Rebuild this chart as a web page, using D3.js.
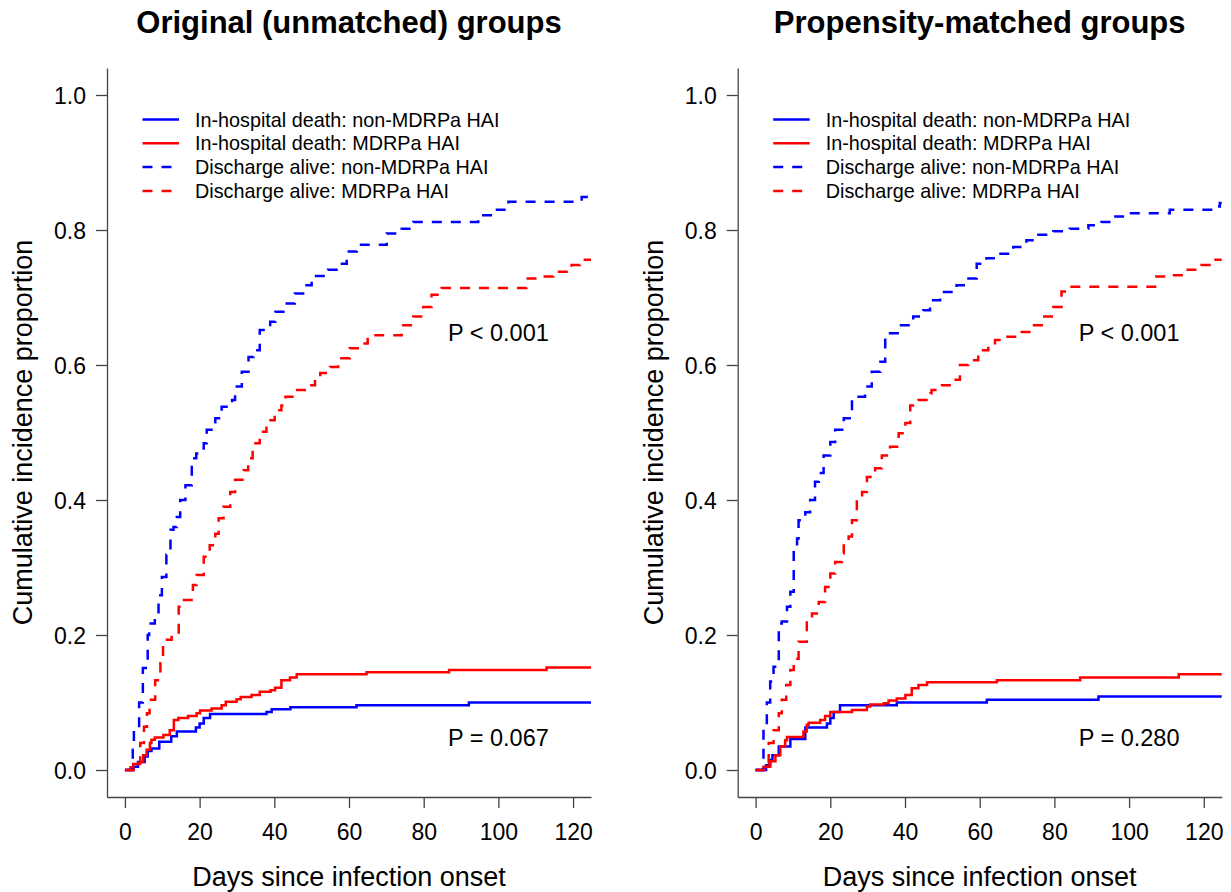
<!DOCTYPE html>
<html><head><meta charset="utf-8">
<script src="https://cdn.jsdelivr.net/npm/d3@7"></script>
<style>
body{margin:0;background:#fff}
svg{display:block;font-family:Arial,"Liberation Sans",sans-serif}
</style>
</head><body>
<svg id="chart" width="1231" height="892"></svg>
<script>
// ---------- data ----------
const panelTitles = ["Original (unmatched) groups", "Propensity-matched groups"];
const xTicks = [0, 20, 40, 60, 80, 100, 120];
const yTicks = [0, 0.2, 0.4, 0.6, 0.8, 1.0];
const xLabel = "Days since infection onset";
const yLabel = "Cumulative incidence proportion";
const legendLabels = [
  "In-hospital death: non-MDRPa HAI",
  "In-hospital death: MDRPa HAI",
  "Discharge alive: non-MDRPa HAI",
  "Discharge alive: MDRPa HAI"
];
const pTextsLeft = ["P < 0.001", "P = 0.067"];
const pTextsRight = ["P < 0.001", "P = 0.280"];
const pPosDays = [100, 100];
const pPosProp = [0.65, 0.05];

// [days, cumulative incidence] at each jump — unmatched
const origDeathNonMDR = [[0,0],[2.3,0.005],[3.5,0.012],[5.3,0.02],[6.1,0.028],[7.1,0.032],[9.2,0.042],[12.4,0.05],[13.9,0.057],[19,0.063],[20,0.069],[21.1,0.077],[22.8,0.083],[37.9,0.086],[39.3,0.09],[44.3,0.093],[62,0.096],[92.1,0.1]];
const origDeathMDR = [[0,0],[1.5,0.004],[2.2,0.009],[4.0,0.012],[4.9,0.022],[5.8,0.03],[6.7,0.04],[7.1,0.045],[8.0,0.048],[10.3,0.052],[12.0,0.059],[13.1,0.074],[14.3,0.077],[16.9,0.08],[19.2,0.084],[20.1,0.088],[23.2,0.091],[25.9,0.096],[27.0,0.101],[29.9,0.105],[31.0,0.108],[33.9,0.111],[36.1,0.116],[39.0,0.118],[40.2,0.122],[41.9,0.133],[44.2,0.137],[46.0,0.142],[64.7,0.145],[86.8,0.148],[112.9,0.152]];
const origDischNonMDR = [[0,0],[2.1,0.03],[2.4,0.059],[3.8,0.1],[4.8,0.151],[6.1,0.2],[6.5,0.217],[8.0,0.222],[9.0,0.259],[9.9,0.286],[11.1,0.319],[12.2,0.356],[13.0,0.36],[13.9,0.375],[14.8,0.4],[16.2,0.422],[17.9,0.462],[19.1,0.469],[21.1,0.484],[21.9,0.504],[24.2,0.521],[25.9,0.538],[28.7,0.548],[29.5,0.568],[31.3,0.59],[33.1,0.612],[34.4,0.622],[36.1,0.652],[38.9,0.664],[40.3,0.679],[42.8,0.691],[45.5,0.706],[48.2,0.718],[50.0,0.732],[54.4,0.741],[57.6,0.75],[59.4,0.768],[62.1,0.778],[70.1,0.795],[74.1,0.802],[77.2,0.812],[94.6,0.822],[99.1,0.83],[102.7,0.842],[122.3,0.849],[124.5,0.852]];
const origDischMDR = [[0,0],[3.0,0.01],[4.1,0.04],[5.1,0.064],[5.9,0.084],[6.6,0.104],[8.1,0.133],[9.5,0.158],[10.2,0.193],[12.5,0.2],[14.4,0.242],[15.3,0.252],[18.2,0.274],[19.2,0.289],[21.1,0.316],[22.7,0.333],[24.2,0.35],[25.1,0.373],[26.4,0.39],[28.2,0.412],[29.5,0.43],[31.8,0.444],[33.0,0.462],[34.2,0.484],[36.1,0.501],[37.9,0.518],[40.1,0.533],[41.9,0.54],[43.0,0.553],[45.2,0.563],[48.7,0.57],[50.9,0.578],[52.3,0.588],[54.9,0.597],[57.1,0.61],[60.2,0.625],[62.9,0.632],[65.0,0.644],[74.1,0.659],[77.2,0.672],[79.9,0.686],[82.1,0.704],[84.8,0.714],[107.5,0.728],[111.6,0.731],[114.7,0.738],[119.6,0.748],[121.8,0.756]];

// propensity-matched
const matchDeathNonMDR = [[0,0],[2.8,0.007],[3.9,0.015],[4.5,0.022],[6.2,0.035],[9.3,0.046],[13.3,0.063],[19.1,0.069],[20.0,0.077],[20.9,0.086],[22.6,0.096],[37.8,0.1],[61.9,0.104],[91.8,0.109]];
const matchDeathMDR = [[0,0],[2.1,0.005],[3.9,0.013],[5.3,0.022],[6.6,0.035],[7.9,0.044],[8.4,0.049],[12.8,0.057],[13.7,0.067],[14.2,0.07],[17.3,0.074],[18.6,0.08],[20.0,0.086],[25.8,0.089],[29.8,0.094],[30.7,0.097],[34.3,0.099],[35.6,0.103],[37.8,0.106],[40.1,0.111],[41.8,0.121],[43.6,0.126],[45.9,0.13],[64.6,0.133],[86.9,0.137],[113.3,0.142]];
const matchDischNonMDR = [[0,0],[2.1,0.064],[3.0,0.1],[3.9,0.131],[4.8,0.153],[6.2,0.217],[7.0,0.22],[8.4,0.242],[9.3,0.264],[10.2,0.326],[11.1,0.343],[11.5,0.37],[13.3,0.382],[14.6,0.4],[15.9,0.427],[16.9,0.44],[18.2,0.466],[20.0,0.486],[21.3,0.504],[23.6,0.521],[25.8,0.548],[26.7,0.553],[29.3,0.568],[31.1,0.59],[33.4,0.605],[34.7,0.642],[36.0,0.647],[38.6,0.659],[42.2,0.672],[44.9,0.681],[46.7,0.696],[49.4,0.708],[53.8,0.718],[56.5,0.728],[59.2,0.75],[61.8,0.758],[65.0,0.765],[69.0,0.775],[72.5,0.785],[75.7,0.793],[79.7,0.798],[84.1,0.802],[89.1,0.807],[92.6,0.812],[95.8,0.82],[99.3,0.825],[110.9,0.83],[123.4,0.835],[124.3,0.84]];
const matchDischMDR = [[0,0],[3.0,0.01],[3.5,0.04],[4.8,0.059],[6.2,0.084],[7.0,0.104],[8.2,0.126],[9.3,0.148],[10.2,0.165],[11.5,0.19],[13.7,0.225],[15.1,0.232],[16.9,0.249],[18.6,0.271],[20.0,0.291],[21.3,0.308],[23.1,0.321],[23.6,0.336],[24.9,0.346],[25.8,0.37],[27.1,0.4],[28.5,0.412],[29.8,0.434],[32.0,0.447],[33.8,0.466],[36.0,0.479],[38.3,0.499],[40.1,0.514],[41.4,0.54],[43.6,0.548],[46.8,0.558],[47.1,0.563],[49.9,0.57],[52.5,0.578],[54.7,0.6],[56.9,0.607],[59.6,0.622],[62.3,0.63],[64.1,0.637],[66.8,0.642],[70.3,0.649],[73.9,0.659],[76.6,0.672],[79.7,0.686],[81.9,0.709],[84.6,0.716],[107.3,0.731],[111.3,0.733],[114.5,0.741],[119.4,0.748],[122.1,0.756]];

// ---------- styling ----------
const seriesColors = ["#0000FF", "#FF0000", "#0000FF", "#FF0000"];
const seriesDash = [null, null, "10,9", "10,9"];

const panels = [
  {title: panelTitles[0], series: [origDeathNonMDR, origDeathMDR, origDischNonMDR, origDischMDR], p: pTextsLeft, dx: 0},
  {title: panelTitles[1], series: [matchDeathNonMDR, matchDeathMDR, matchDischNonMDR, matchDischMDR], p: pTextsRight, dx: 630.7}
];

const svg = d3.select("#chart");
const axisColor = "#444";

panels.forEach(panel => {
  const g = svg.append("g").attr("transform", `translate(${panel.dx},0)`);
  const x = d3.scaleLinear().domain([-4.8, 124.8]).range([107, 591]);
  const y = d3.scaleLinear().domain([-0.04, 1.04]).range([797, 68]);

  // axes
  const gx = g.append("g").attr("transform", "translate(0,797)")
    .call(d3.axisBottom(x).tickValues(xTicks).tickSize(11).tickSizeOuter(0));
  gx.select(".domain").attr("stroke", axisColor).attr("stroke-width", 1.3);
  gx.selectAll(".tick line").attr("stroke", axisColor).attr("stroke-width", 1.3);
  gx.selectAll(".tick text").attr("y", 42.5).attr("dy", 0)
    .attr("font-size", 23).attr("fill", "#000").attr("font-family", "Arial, 'Liberation Sans', sans-serif");

  const gy = g.append("g").attr("transform", "translate(107,0)")
    .call(d3.axisLeft(y).tickValues(yTicks).tickFormat(d3.format(".1f")).tickSize(11).tickSizeOuter(0));
  gy.select(".domain").attr("stroke", axisColor).attr("stroke-width", 1.3);
  gy.selectAll(".tick line").attr("stroke", axisColor).attr("stroke-width", 1.3);
  gy.selectAll(".tick text").attr("x", -21).attr("dy", "0.36em")
    .attr("font-size", 23).attr("fill", "#000").attr("font-family", "Arial, 'Liberation Sans', sans-serif");

  // titles
  g.append("text").attr("x", 349).attr("y", 33).attr("text-anchor", "middle")
    .attr("font-size", 31).attr("font-weight", "bold").text(panel.title);
  g.append("text").attr("x", 349).attr("y", 886).attr("text-anchor", "middle")
    .attr("font-size", 27).text(xLabel);
  g.append("text").attr("transform", "translate(32,432.5) rotate(-90)").attr("text-anchor", "middle")
    .attr("font-size", 27).text(yLabel);

  // curves
  const line = d3.line().x(d => x(d[0])).y(d => y(d[1])).curve(d3.curveStepAfter);
  const xEnd = x.domain()[1];
  panel.series.forEach((s, i) => {
    const pts = s.concat([[xEnd, s[s.length - 1][1]]]);
    g.append("path").datum(pts).attr("d", line)
      .attr("fill", "none").attr("stroke", seriesColors[i]).attr("stroke-width", 2.5)
      .attr("stroke-dasharray", seriesDash[i]);
  });

  // legend
  legendLabels.forEach((lab, i) => {
    const ry = 119.5 + i * 23.8;
    g.append("line").attr("x1", 142.5).attr("x2", 179).attr("y1", ry).attr("y2", ry)
      .attr("stroke", seriesColors[i]).attr("stroke-width", 2.5).attr("stroke-dasharray", seriesDash[i]);
    g.append("text").attr("x", 195).attr("y", ry + 7).attr("font-size", 19.8).attr("fill", "#000").text(lab);
  });

  // p-values
  panel.p.forEach((t, i) => {
    g.append("text").attr("x", x(pPosDays[i])).attr("y", y(pPosProp[i]) + 9.4)
      .attr("text-anchor", "middle").attr("font-size", 23.5).attr("fill", "#000").text(t);
  });
});
</script>
</body></html>
